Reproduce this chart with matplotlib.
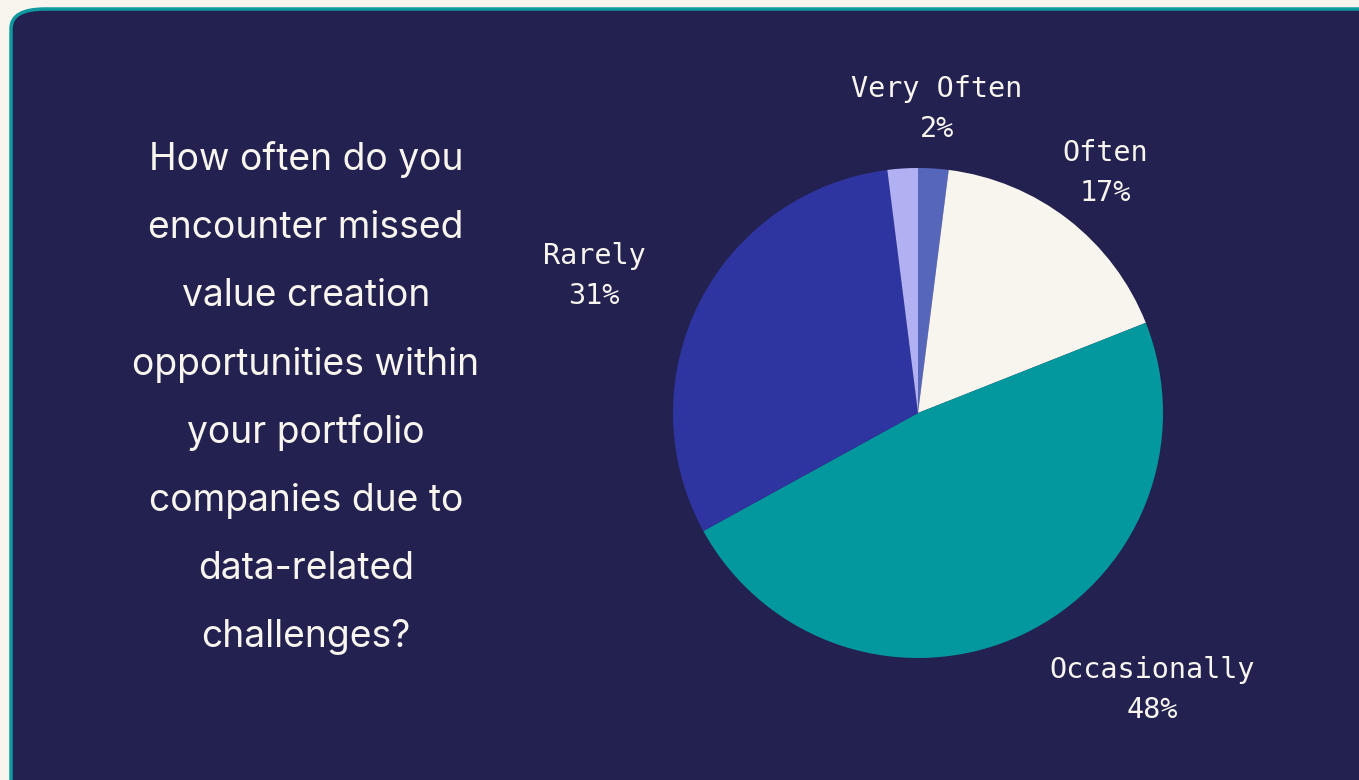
import matplotlib.pyplot as plt
from matplotlib.patches import FancyBboxPatch

# datos del grafico
categories = ['Very Often', 'Often', 'Occasionally', 'Rarely', 'Never']
values = [2, 17, 48, 31, 2]
show_label = [True, True, True, True, False]
colors = ['#5566BB', '#F8F5EE', '#03989E', '#2E35A0', '#B0B0F2']

question = ['How often do you', 'encounter missed', 'value creation',
            'opportunities within', 'your portfolio', 'companies due to',
            'data-related', 'challenges?']

# posiciones de las etiquetas (en unidades del radio)
label_pos = [(0.078, 1.24), (0.763, 0.98), (0.955, -1.131), (-1.322, 0.56)]

W, H = 1359, 780
fig = plt.figure(figsize=(W / 100, H / 100), dpi=100)
fig.patch.set_facecolor('#F8F5EE')

panel = FancyBboxPatch((11 / W, -0.05), 1.1, (H - 9) / H + 0.05,
                       boxstyle='round,pad=0,rounding_size=0.025',
                       transform=fig.transFigure, facecolor='#232150',
                       edgecolor='#0E9A9E', linewidth=2.5, zorder=-1)
fig.patches.append(panel)

# texto de la pregunta
y0 = 1 - 160 / H
for i, line in enumerate(question):
    fig.text(306 / W, y0 - i * 68.2 / H, line, ha='center', va='center',
             fontsize=26.8, fontweight='normal', family=['Inter', 'DejaVu Sans'],
             color='#F8F5EE')

# tarta
R = 245
cx, cy = 918, H - 413
ax = fig.add_axes([(cx - 1.5 * R) / W, (cy - 1.5 * R) / H, 3 * R / W, 3 * R / H])
ax.set_zorder(2)
ax.pie(values, colors=colors, startangle=90, counterclock=False,
       wedgeprops={'linewidth': 0})
ax.set_xlim(-1.5, 1.5)
ax.set_ylim(-1.5, 1.5)
ax.set_aspect('equal')
ax.axis('off')

k = 0
for cat, val, show in zip(categories, values, show_label):
    if not show:
        continue
    x, y = label_pos[k]
    k += 1
    ax.text(x, y + 0.082, cat, ha='center', va='center', fontsize=20.5,
            family='DejaVu Sans Mono', color='#F8F5EE')
    ax.text(x, y - 0.082, f'{val}%', ha='center', va='center', fontsize=20.5,
            family='DejaVu Sans Mono', color='#F8F5EE')

fig.savefig('out.png', dpi=100, facecolor=fig.get_facecolor())
